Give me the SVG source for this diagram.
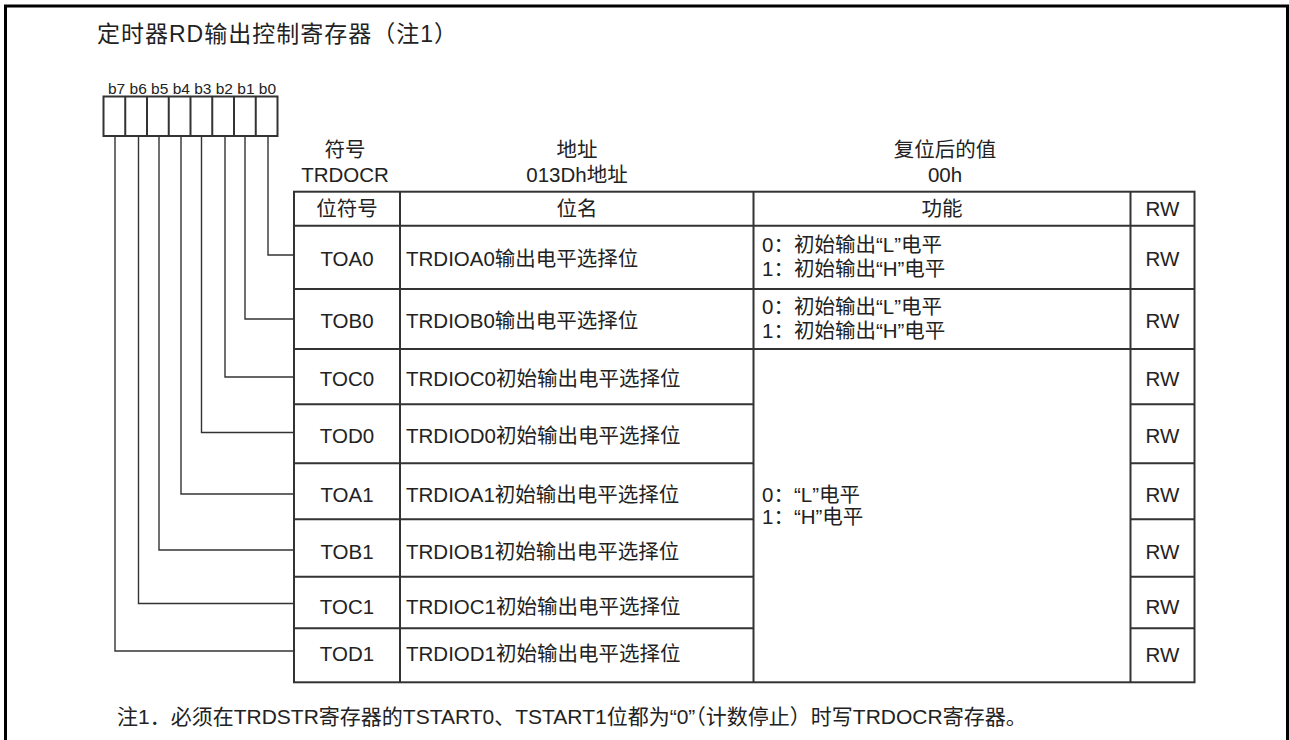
<svg xmlns="http://www.w3.org/2000/svg" width="1289" height="740" viewBox="0 0 1289 740">
<style>
text{font-family:"Liberation Sans","Noto Sans CJK SC",sans-serif;fill:#222;font-size:20.5px}
.c{text-anchor:middle}
.t{font-size:23px;letter-spacing:1px}
.b{font-size:15.5px}
.n{font-size:21px}
.grid{fill:none;stroke:#333;stroke-width:2}
.con{fill:none;stroke:#333;stroke-width:1.4}
</style>
<rect width="1289" height="740" fill="#fff"/>
<path d="M5.5,740 V6 H1287.5 V740" fill="none" stroke="#000" stroke-width="3"/>
<g id="title"><text class="t" x="97" y="42">定时器RD输出控制寄存器（注1）</text></g>
<g id="bits">
<text class="b" x="108" y="94">b7 b6 b5 b4 b3 b2 b1 b0</text>
<rect class="grid" x="103.5" y="96.5" width="174" height="39.5"/>
<path class="grid" d="M125.25,96.5V136M147,96.5V136M168.75,96.5V136M190.5,96.5V136M212.25,96.5V136M234,96.5V136M255.75,96.5V136"/>
</g>
<g id="connectors">
<path class="con" d="M268,136V255H294"/>
<path class="con" d="M245,136V319H294"/>
<path class="con" d="M225,136V377H294"/>
<path class="con" d="M201.5,136V432.5H294"/>
<path class="con" d="M181,136V494H294"/>
<path class="con" d="M159,136V550H294"/>
<path class="con" d="M138.5,136V603.5H294"/>
<path class="con" d="M115,136V651H294"/>
</g>
<g id="header-info">
<text class="c" x="345" y="157">符号</text>
<text class="c" x="345" y="182">TRDOCR</text>
<text class="c" x="577" y="157">地址</text>
<text class="c" x="577" y="182">013Dh地址</text>
<text class="c" x="945" y="157">复位后的值</text>
<text class="c" x="945" y="182">00h</text>
</g>
<g id="table">
<rect class="grid" x="294" y="191.7" width="900.5" height="490.6"/>
<path class="grid" d="M400,191.7V682.3M753.5,191.7V682.3M1130.5,191.7V682.3"/>
<path class="grid" d="M294,225.7H1194.5M294,289H1194.5M294,349H1194.5"/>
<path class="grid" d="M294,404.3H753.5M294,463.3H753.5M294,519.3H753.5M294,576.7H753.5M294,628.3H753.5"/>
<path class="grid" d="M1130.5,404.3H1194.5M1130.5,463.3H1194.5M1130.5,519.3H1194.5M1130.5,576.7H1194.5M1130.5,628.3H1194.5"/>
<text class="c" x="347" y="216">位符号</text>
<text class="c" x="577" y="216">位名</text>
<text class="c" x="942" y="216">功能</text>
<text class="c" x="1162.5" y="216">RW</text>
</g>
<g id="row-TOA0">
<text class="c" x="347" y="266">TOA0</text>
<text x="406" y="266">TRDIOA0输出电平选择位</text>
<text x="762" y="252">0：初始输出“L”电平</text>
<text x="762" y="276">1：初始输出“H”电平</text>
<text class="c" x="1162.5" y="266">RW</text>
</g>
<g id="row-TOB0">
<text class="c" x="347" y="328">TOB0</text>
<text x="406" y="328">TRDIOB0输出电平选择位</text>
<text x="762" y="314">0：初始输出“L”电平</text>
<text x="762" y="338">1：初始输出“H”电平</text>
<text class="c" x="1162.5" y="328">RW</text>
</g>
<g id="row-TOC0">
<text class="c" x="347" y="386">TOC0</text>
<text x="406" y="386">TRDIOC0初始输出电平选择位</text>
<text class="c" x="1162.5" y="386">RW</text>
</g>
<g id="row-TOD0">
<text class="c" x="347" y="443">TOD0</text>
<text x="406" y="443">TRDIOD0初始输出电平选择位</text>
<text class="c" x="1162.5" y="443">RW</text>
</g>
<g id="row-TOA1">
<text class="c" x="347" y="502">TOA1</text>
<text x="406" y="502">TRDIOA1初始输出电平选择位</text>
<text class="c" x="1162.5" y="502">RW</text>
</g>
<g id="row-TOB1">
<text class="c" x="347" y="558.5">TOB1</text>
<text x="406" y="558.5">TRDIOB1初始输出电平选择位</text>
<text class="c" x="1162.5" y="558.5">RW</text>
</g>
<g id="row-TOC1">
<text class="c" x="347" y="613.5">TOC1</text>
<text x="406" y="613.5">TRDIOC1初始输出电平选择位</text>
<text class="c" x="1162.5" y="613.5">RW</text>
</g>
<g id="row-TOD1">
<text class="c" x="347" y="661">TOD1</text>
<text x="406" y="661">TRDIOD1初始输出电平选择位</text>
<text class="c" x="1162.5" y="662">RW</text>
</g>
<g id="function-merged">
<text x="762" y="502">0：“L”电平</text>
<text x="762" y="524">1：“H”电平</text>
</g>
<g id="note"><text class="n" x="117" y="724">注1．必须在TRDSTR寄存器的TSTART0、TSTART1位都为“0”（计数停止）时写TRDOCR寄存器。</text></g>
</svg>
